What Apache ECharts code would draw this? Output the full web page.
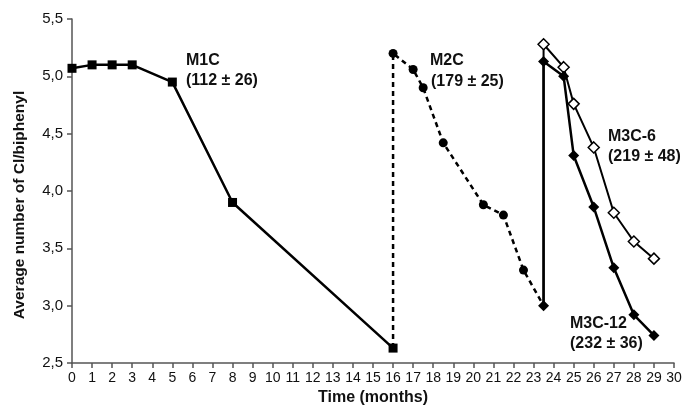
<!DOCTYPE html>
<html><head><meta charset="utf-8">
<script src="https://cdn.jsdelivr.net/npm/echarts@6/dist/echarts.min.js"></script>
<style>html,body{margin:0;padding:0;background:#fff}#c{width:688px;height:407px}</style>
</head><body><div id="c"></div>
<script>
// M1C (filled squares)
const m1cX = [0, 1, 2, 3, 5, 8, 16];
const m1cY = [5.07, 5.10, 5.10, 5.10, 4.95, 3.90, 2.63];
// M2C (filled circles, dashed) — starts at end of M1C, ends at M3C start
const m2cX = [16, 16, 17, 17.5, 18.5, 20.5, 21.5, 22.5, 23.5];
const m2cY = [2.63, 5.20, 5.06, 4.90, 4.42, 3.88, 3.79, 3.31, 3.00];
// M3C-12 (filled diamonds)
const m3c12X = [23.5, 23.5, 24.5, 25, 26, 27, 28, 29];
const m3c12Y = [3.00, 5.13, 5.00, 4.31, 3.86, 3.33, 2.92, 2.74];
// M3C-6 (open diamonds)
const m3c6X = [23.5, 23.5, 24.5, 25, 26, 27, 28, 29];
const m3c6Y = [3.00, 5.28, 5.08, 4.76, 4.38, 3.81, 3.56, 3.41];

const ff = 'Liberation Sans, Arial, sans-serif';
function pts(xs, ys, hidden) {
  return xs.map((x, i) => {
    const d = { value: [x, ys[i]] };
    if (hidden.indexOf(i) >= 0) d.symbol = 'none';
    return d;
  });
}
const lbl = 'bold 16px ' + ff;
const chart = echarts.init(document.getElementById('c'));
chart.setOption({
  animation: false,
  grid: { left: 72, right: 14, top: 19, bottom: 44, containLabel: false, outerBoundsMode: 'none' },
  xAxis: {
    type: 'value', min: 0, max: 30, interval: 1,
    name: 'Time (months)', nameLocation: 'middle', nameGap: 27,
    nameTextStyle: { fontFamily: ff, fontWeight: 'bold', fontSize: 16, color: '#111' },
    axisLine: { lineStyle: { color: '#555', width: 1.5 } },
    axisTick: { show: true, length: 5, lineStyle: { color: '#555', width: 1.5 } },
    axisLabel: { fontFamily: ff, fontSize: 14, color: '#111', margin: 8 },
    splitLine: { show: false }
  },
  yAxis: {
    type: 'value', min: 2.5, max: 5.5, interval: 0.5,
    axisLine: { show: true, lineStyle: { color: '#555', width: 1.5 } },
    axisTick: { show: true, length: 5, lineStyle: { color: '#555', width: 1.5 } },
    axisLabel: { fontFamily: ff, fontSize: 15, color: '#111', margin: 9,
      formatter: v => v.toFixed(1).replace('.', ',') },
    splitLine: { show: false }
  },
  series: [
    { name: 'M2C', type: 'line', data: pts(m2cX, m2cY, [0, 8]),
      symbol: 'circle', symbolSize: 9, itemStyle: { color: '#000' },
      lineStyle: { color: '#000', width: 2.5, type: [5, 4] }, z: 2 },
    { name: 'M1C', type: 'line', data: pts(m1cX, m1cY, []),
      symbol: 'rect', symbolSize: 9, itemStyle: { color: '#000' },
      lineStyle: { color: '#000', width: 2.5 }, z: 3 },
    { name: 'M3C-6', type: 'line', data: pts(m3c6X, m3c6Y, [0]),
      symbol: 'diamond', symbolSize: 11, itemStyle: { color: '#fff', borderColor: '#000', borderWidth: 1.5 },
      lineStyle: { color: '#000', width: 2 }, z: 3 },
    { name: 'M3C-12', type: 'line', data: pts(m3c12X, m3c12Y, []),
      symbol: 'diamond', symbolSize: 11, itemStyle: { color: '#000' },
      lineStyle: { color: '#000', width: 2.5 }, z: 4 }
  ],
  graphic: [
    { type: 'text', x: 20, y: 205, rotation: Math.PI / 2,
      style: { text: 'Average number of Cl/biphenyl', font: 'bold 15.5px ' + ff, fill: '#111',
        align: 'center', verticalAlign: 'middle', textAlign: 'center', textVerticalAlign: 'middle' } },
    { type: 'text', left: 186, top: 53, style: { text: 'M1C', font: lbl, fill: '#111' } },
    { type: 'text', left: 186, top: 73, style: { text: '(112 ± 26)', font: lbl, fill: '#111' } },
    { type: 'text', left: 430, top: 53, style: { text: 'M2C', font: lbl, fill: '#111' } },
    { type: 'text', left: 431, top: 74, style: { text: '(179 ± 25)', font: lbl, fill: '#111' } },
    { type: 'text', left: 608, top: 129, style: { text: 'M3C-6', font: lbl, fill: '#111' } },
    { type: 'text', left: 608, top: 149, style: { text: '(219 ± 48)', font: lbl, fill: '#111' } },
    { type: 'text', left: 570, top: 316, style: { text: 'M3C-12', font: lbl, fill: '#111' } },
    { type: 'text', left: 570, top: 336, style: { text: '(232 ± 36)', font: lbl, fill: '#111' } }
  ]
});
</script></body></html>
